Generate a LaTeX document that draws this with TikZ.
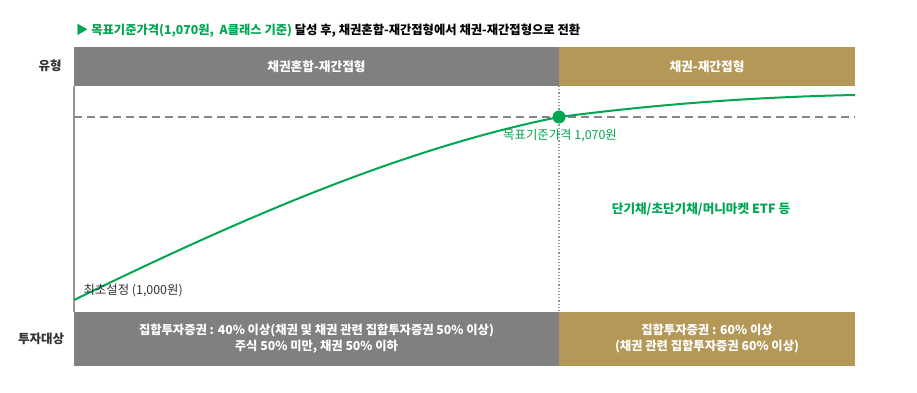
\documentclass[tikz,border=0pt]{standalone}
\usepackage{fontspec}
\setmainfont{Noto Sans CJK KR}
\usepackage{tikz}
\usetikzlibrary{calc}
\definecolor{colbar}{RGB}{128,128,128}
\definecolor{colgold}{RGB}{179,152,88}
\definecolor{colgreen}{RGB}{0,166,81}
\definecolor{colline}{RGB}{150,150,150}
\definecolor{coltext}{RGB}{51,51,51}
\tikzset{
  bar/.style={
    rectangle,inner sep=0pt,outer sep=0pt,
    text=white,align=center,font=\fontsize{12.3}{16}\selectfont\bfseries
  },
  rowlabel/.style={text=coltext,font=\fontsize{12.5}{14}\selectfont\bfseries}
}

\begin{document}
\begin{tikzpicture}[x=1pt,y=-1pt]
  \useasboundingbox[fill=white] (0,0) rectangle (917,393);

  % The title
  \node[anchor=west,inner sep=0pt,font=\fontsize{12.3}{14}\selectfont\bfseries] (title) at (76,31)
    {\textcolor{colgreen}{▶ 목표기준가격(1,070원,\ \ A클래스 기준)} 달성 후, 채권혼합-재간접형에서 채권-재간접형으로 전환};

  % The bars
  \node[bar,fill=colbar,minimum width=485,minimum height=39,anchor=north west,
    font=\fontsize{12.7}{16}\selectfont\bfseries]
    (typeone) at (74,47) {채권혼합-재간접형};
  \node[bar,fill=colgold,minimum width=296,minimum height=39,anchor=north west,
    font=\fontsize{12.7}{16}\selectfont\bfseries]
    (typetwo) at (559,47) {채권-재간접형};
  \node[bar,fill=colbar,minimum width=485,minimum height=54,anchor=north west]
    (assetone) at (74,312)
    {집합투자증권 : 40\% 이상(채권 및 채권 관련 집합투자증권 50\% 이상)\\주식 50\% 미만, 채권 50\% 이하};
  \node[bar,fill=colgold,minimum width=296,minimum height=54,anchor=north west]
    (assettwo) at (559,312)
    {집합투자증권 : 60\% 이상\\(채권 관련 집합투자증권 60\% 이상)};

  % The row labels
  \node[rowlabel] (typelabel) at (50,66) {유형};
  \node[rowlabel] (assetlabel) at (41,339) {투자대상};

  % Axis and guides
  \draw[colline,line width=1.5pt] (typeone.south west) -- (assetone.north west);
  \draw[colline,line width=1.2pt,dotted] (typeone.south east) -- (assetone.north west -| typeone.south east);
  \coordinate (dashend) at (855,117);
  \draw[colline!90!black,line width=1.5pt,dash pattern=on 8pt off 5pt]
    (74,117) -- (dashend);

  % The price curve
  \coordinate (origin) at (74,300);
  \coordinate (final) at (855,95);
  \node[circle,fill=colgreen,inner sep=0pt,minimum size=13] (target) at (559,117) {};
  \draw[colgreen,line width=2pt]
    (origin) .. controls (234,222) and (399,149) .. (target.center)
    .. controls (659,104) and (755,97) .. (final);

  % The labels
  \node[text=colgreen,font=\fontsize{12.4}{14}\selectfont] (targetlabel) at (560,136)
    {목표기준가격 1,070원};
  \node[text=colgreen,font=\fontsize{12.6}{14}\selectfont\bfseries] (fund) at (701,209)
    {단기채/초단기채/머니마켓 ETF 등};
  \node[text=coltext,font=\fontsize{12.4}{14}\selectfont,anchor=west] (start) at (80,291)
    {최초설정 (1,000원)};
\end{tikzpicture}
\end{document}
